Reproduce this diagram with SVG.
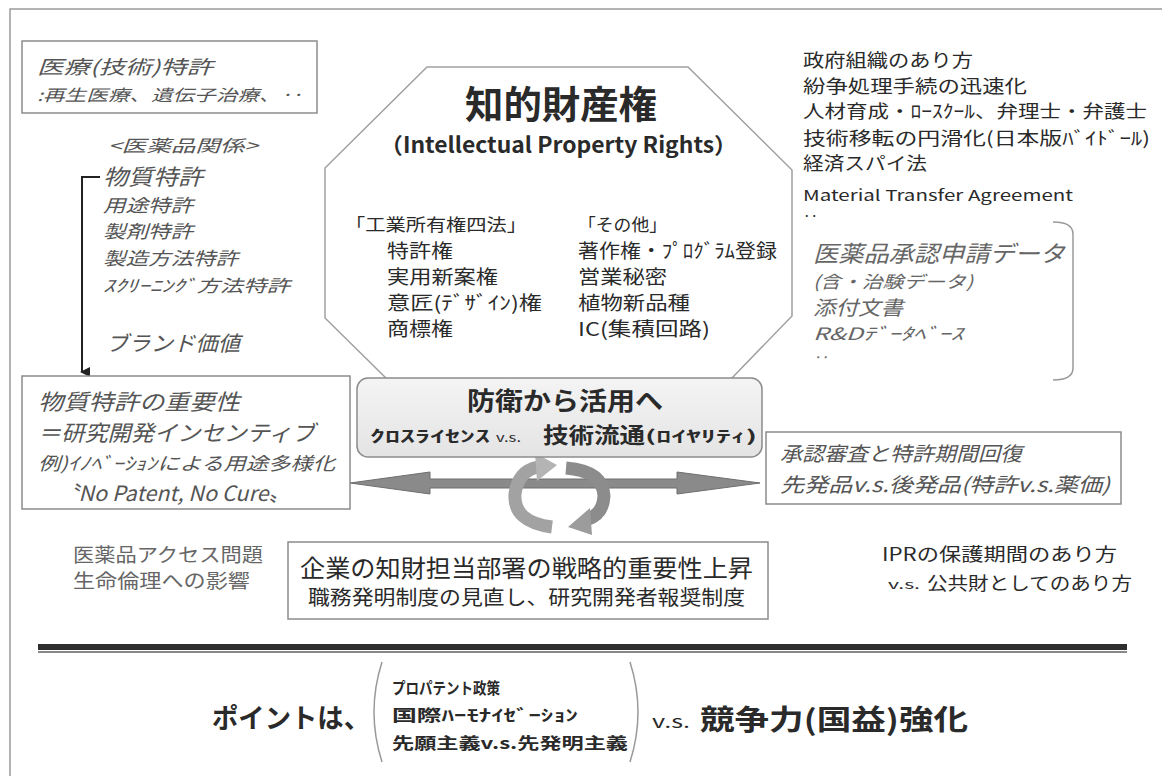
<svg xmlns="http://www.w3.org/2000/svg" width="1162" height="776" viewBox="0 0 1162 776">
<defs>
<style>
text{font-family:"Noto Sans CJK JP","Noto Sans",sans-serif;fill:#2a2a2a}
.i{font-style:italic;fill:#555}
.g{fill:#666}
.b{font-weight:bold}
.box{fill:#fff;stroke:#8c8c8c;stroke-width:1.5}
.thin{fill:none;stroke:#9a9a9a;stroke-width:1.5}
</style>
<linearGradient id="rb" x1="0" y1="0" x2="0" y2="1">
<stop offset="0" stop-color="#f4f4f4"/><stop offset="1" stop-color="#e4e4e4"/>
</linearGradient>
<marker id="ah" markerWidth="10" markerHeight="10" refX="5" refY="8" orient="auto" markerUnits="userSpaceOnUse">
<path d="M0,0 L10,0 L5,10 Z" fill="#222"/>
</marker>
</defs>
<rect x="0" y="0" width="1162" height="776" fill="#fff"/>
<rect x="10" y="9" width="1170" height="800" fill="none" stroke="#9a9a9a" stroke-width="1.5"/>

<g id="medical-tech">
<rect class="box" x="22" y="41" width="295" height="72"/>
<text class="i" x="37" y="74" font-size="19" textLength="176" lengthAdjust="spacingAndGlyphs">医療(技術)特許</text>
<text class="i" x="37" y="101" font-size="16" textLength="265" lengthAdjust="spacingAndGlyphs">:再生医療、遺伝子治療、‥</text>
</g>

<g id="pharma-list">
<text class="i" x="108" y="152" font-size="17" textLength="150" lengthAdjust="spacingAndGlyphs">&lt;医薬品関係&gt;</text>
<text class="i" x="103" y="185" font-size="22" textLength="100" lengthAdjust="spacingAndGlyphs">物質特許</text>
<text class="i" x="103" y="212" font-size="18" textLength="90" lengthAdjust="spacingAndGlyphs">用途特許</text>
<text class="i" x="103" y="238" font-size="18" textLength="90" lengthAdjust="spacingAndGlyphs">製剤特許</text>
<text class="i" x="103" y="265" font-size="18" textLength="135" lengthAdjust="spacingAndGlyphs">製造方法特許</text>
<text class="i" x="103" y="292" font-size="17" textLength="187" lengthAdjust="spacingAndGlyphs">ｽｸﾘｰﾆﾝｸﾞ方法特許</text>
<text class="i" x="106" y="351" font-size="21" textLength="134" lengthAdjust="spacingAndGlyphs">ブランド価値</text>
</g>

<g id="ipr-octagon">
<polygon points="427,67 688,67 792,170 792,316 730,380 388,380 325,318 325,168" fill="#fff" stroke="#a0a0a0" stroke-width="1.5"/>
<text class="b" x="465" y="118" font-size="38" textLength="192" lengthAdjust="spacingAndGlyphs">知的財産権</text>
<text class="b" x="380" y="153" font-size="22" textLength="357" lengthAdjust="spacingAndGlyphs">（Intellectual Property Rights）</text>
<text x="345" y="231" font-size="17" textLength="182" lengthAdjust="spacingAndGlyphs">「工業所有権四法」</text>
<text x="387" y="258" font-size="19" textLength="66" lengthAdjust="spacingAndGlyphs">特許権</text>
<text x="387" y="284" font-size="19" textLength="111" lengthAdjust="spacingAndGlyphs">実用新案権</text>
<text x="387" y="310" font-size="19" textLength="155" lengthAdjust="spacingAndGlyphs">意匠(ﾃﾞｻﾞｲﾝ)権</text>
<text x="387" y="336" font-size="19" textLength="66" lengthAdjust="spacingAndGlyphs">商標権</text>
<text x="578" y="231" font-size="17" textLength="89" lengthAdjust="spacingAndGlyphs">「その他」</text>
<text x="578" y="258" font-size="19" textLength="199" lengthAdjust="spacingAndGlyphs">著作権・ﾌﾟﾛｸﾞﾗﾑ登録</text>
<text x="578" y="284" font-size="19" textLength="89" lengthAdjust="spacingAndGlyphs">営業秘密</text>
<text x="578" y="310" font-size="19" textLength="112" lengthAdjust="spacingAndGlyphs">植物新品種</text>
<text x="578" y="336" font-size="19" textLength="132" lengthAdjust="spacingAndGlyphs">IC(集積回路)</text>
</g>

<g id="policy-list">
<text x="803" y="67" font-size="18" textLength="170" lengthAdjust="spacingAndGlyphs">政府組織のあり方</text>
<text x="803" y="93" font-size="18" textLength="224" lengthAdjust="spacingAndGlyphs">紛争処理手続の迅速化</text>
<text x="803" y="118" font-size="18" textLength="344" lengthAdjust="spacingAndGlyphs">人材育成・ﾛｰｽｸｰﾙ、弁理士・弁護士</text>
<text x="803" y="145" font-size="18" textLength="347" lengthAdjust="spacingAndGlyphs">技術移転の円滑化(日本版ﾊﾞｲﾄﾞｰﾙ)</text>
<text x="803" y="170" font-size="18" textLength="124" lengthAdjust="spacingAndGlyphs">経済スパイ法</text>
<text x="803" y="201" font-size="15" textLength="270" lengthAdjust="spacingAndGlyphs">Material Transfer Agreement</text>
<text x="803" y="222" font-size="15">‥</text>
</g>

<g id="approval-data">
<path class="thin" d="M1053,222 Q1073,222 1073,234 L1073,368 Q1073,380 1053,380"/>
<text class="i g" x="813" y="262" font-size="23" textLength="252" lengthAdjust="spacingAndGlyphs">医薬品承認申請データ</text>
<text class="i g" x="813" y="288" font-size="17" textLength="160" lengthAdjust="spacingAndGlyphs">(含・治験データ)</text>
<text class="i g" x="813" y="315" font-size="20" textLength="90" lengthAdjust="spacingAndGlyphs">添付文書</text>
<text class="i g" x="813" y="340" font-size="17" textLength="150" lengthAdjust="spacingAndGlyphs">R&amp;Dﾃﾞｰﾀﾍﾞｰｽ</text>
<text class="i g" x="813" y="363" font-size="15">‥</text>
</g>

<g id="connectors">
<path d="M100,177 L82,177 L82,372" fill="none" stroke="#222" stroke-width="2" marker-end="url(#ah)"/>
<polygon points="350,483 430,472 430,479 677,479 677,472 760,483 677,494 677,488 430,488 430,494" fill="#8a8a8a" stroke="#6e6e6e" stroke-width="1"/>
<path d="M552,527 Q513,522 515,494 Q518,471 538,467" fill="none" stroke="#a2a2a2" stroke-width="13"/>
<polygon points="535,453 557,465 537,481" fill="#b4b4b4"/>
<path d="M566,468 Q603,471 604,496 Q603,515 586,520" fill="none" stroke="#8c8c8c" stroke-width="13"/>
<polygon points="590,508 568,527 592,535" fill="#9c9c9c"/>
</g>

<g id="substance-box">
<rect class="box" x="22" y="376" width="328" height="133"/>
<text class="i" x="38" y="410" font-size="22" textLength="202" lengthAdjust="spacingAndGlyphs">物質特許の重要性</text>
<text class="i" x="38" y="441" font-size="22" textLength="277" lengthAdjust="spacingAndGlyphs">＝研究開発インセンティブ</text>
<text class="i" x="38" y="470" font-size="18" textLength="297" lengthAdjust="spacingAndGlyphs">例)ｲﾉﾍﾞｰｼｮﾝによる用途多様化</text>
<text class="i" x="57" y="501" font-size="21" textLength="233" lengthAdjust="spacingAndGlyphs">〝No Patent, No Cure〟</text>
</g>

<g id="defense-to-use">
<rect x="357" y="378" width="405" height="79" rx="11" fill="url(#rb)" stroke="#8c8c8c" stroke-width="1.5"/>
<text class="b" x="467" y="410" font-size="25" textLength="196" lengthAdjust="spacingAndGlyphs">防衛から活用へ</text>
<text class="b" x="370" y="442" font-size="16" textLength="120" lengthAdjust="spacingAndGlyphs">ｸﾛｽﾗｲｾﾝｽ</text>
<text x="496" y="442" font-size="12" textLength="25" lengthAdjust="spacingAndGlyphs">v.s.</text>
<text class="b" x="543" y="443" font-size="22" textLength="102" lengthAdjust="spacingAndGlyphs">技術流通</text>
<text class="b" x="645" y="442" font-size="16" textLength="112" lengthAdjust="spacingAndGlyphs">(ﾛｲﾔﾘﾃｨ)</text>
</g>

<g id="approval-box">
<rect class="box" x="766" y="432" width="355" height="72"/>
<text class="i" x="780" y="461" font-size="20" textLength="242" lengthAdjust="spacingAndGlyphs">承認審査と特許期間回復</text>
<text class="i" x="780" y="492" font-size="20" textLength="330" lengthAdjust="spacingAndGlyphs">先発品v.s.後発品(特許v.s.薬価)</text>
</g>

<g id="access">
<text class="g" x="73" y="562" font-size="19" textLength="190" lengthAdjust="spacingAndGlyphs">医薬品アクセス問題</text>
<text class="g" x="73" y="588" font-size="19" textLength="177" lengthAdjust="spacingAndGlyphs">生命倫理への影響</text>
</g>

<g id="corporate-box">
<rect class="box" x="288" y="542" width="480" height="77"/>
<text x="300" y="577" font-size="24" textLength="453" lengthAdjust="spacingAndGlyphs">企業の知財担当部署の戦略的重要性上昇</text>
<text x="308" y="605" font-size="20" textLength="437" lengthAdjust="spacingAndGlyphs">職務発明制度の見直し、研究開発者報奨制度</text>
</g>

<g id="ipr-period">
<text x="882" y="561" font-size="18" textLength="235" lengthAdjust="spacingAndGlyphs">IPRの保護期間のあり方</text>
<text x="888" y="589" font-size="12" textLength="32" lengthAdjust="spacingAndGlyphs">v.s.</text>
<text x="927" y="590" font-size="18" textLength="205" lengthAdjust="spacingAndGlyphs">公共財としてのあり方</text>
</g>

<g id="divider">
<rect x="38" y="644" width="1089" height="6" fill="#2e2e2e"/>
<rect x="38" y="651" width="1089" height="2" fill="#888"/>
</g>

<g id="point">
<text class="b" x="212" y="728" font-size="27" textLength="158" lengthAdjust="spacingAndGlyphs">ポイントは、</text>
<path class="thin" d="M382,662 Q366,712 382,762"/>
<path class="thin" d="M630,662 Q646,712 630,762"/>
<text class="b" x="392" y="694" font-size="16" textLength="108" lengthAdjust="spacingAndGlyphs">プロパテント政策</text>
<text class="b" x="392" y="721" font-size="16" textLength="186" lengthAdjust="spacingAndGlyphs">国際ﾊｰﾓﾅｲｾﾞｰｼｮﾝ</text>
<text class="b" x="392" y="749" font-size="16" textLength="236" lengthAdjust="spacingAndGlyphs">先願主義v.s.先発明主義</text>
<text x="652" y="728" font-size="17" textLength="38" lengthAdjust="spacingAndGlyphs">v.s.</text>
<text class="b" x="700" y="730" font-size="28" textLength="268" lengthAdjust="spacingAndGlyphs">競争力(国益)強化</text>
</g>
</svg>
